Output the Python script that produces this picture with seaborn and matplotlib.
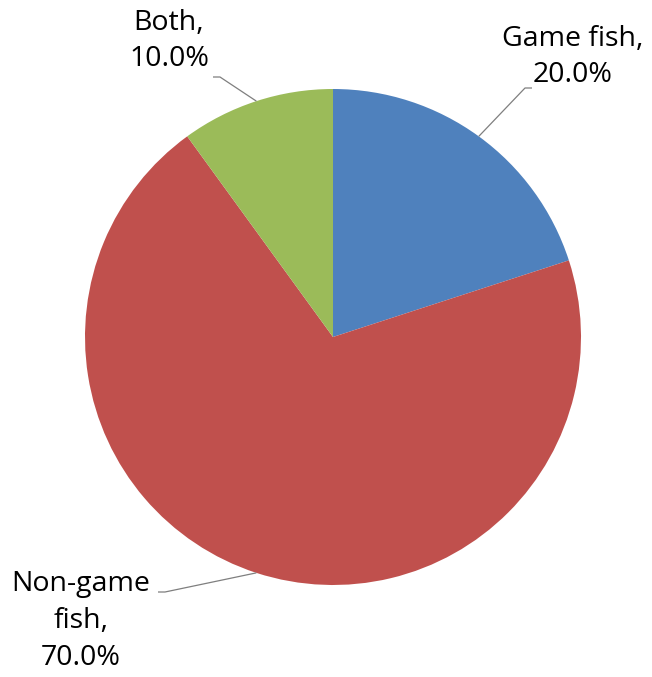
import numpy as np
import matplotlib
matplotlib.use("Agg")
import matplotlib.pyplot as plt
import seaborn as sns

categories = ["Game fish", "Non-game fish", "Both"]
shares = [20.0, 70.0, 10.0]
label_texts = ["Game fish,\n20.0%", "Non-game\nfish,\n70.0%", "Both,\n10.0%"]
colors = ["#4F81BD", "#C0504D", "#9BBB59"]

sns.set_theme(style="white")
plt.rcParams["font.family"] = ["Open Sans", "DejaVu Sans"]

W, H = 652, 677
fig = plt.figure(figsize=(W / 100, H / 100), dpi=100)
ax = fig.add_axes([0, 0, 1, 1])

cx, cy, R = 333, H - 337, 248
wedges, _ = ax.pie(shares, colors=colors, startangle=90, counterclock=False,
                   center=(cx, cy), radius=R, frame=True,
                   wedgeprops=dict(linewidth=0))
ax.set_xlim(0, W)
ax.set_ylim(0, H)
ax.set_aspect("equal")
ax.axis("off")

# label layout: (text x, text y, elbow x, elbow y, end x)
layout = [
    (573, H - 57, 525, H - 88, 532),
    (81, H - 621, 165, H - 592, 158),
    (169, H - 41, 220, H - 77, 213),
]
for w, txt, (tx, ty, ex, ey, endx) in zip(wedges, label_texts, layout):
    mid = np.deg2rad((w.theta1 + w.theta2) / 2)
    ax0 = cx + R * np.cos(mid)
    ay0 = cy + R * np.sin(mid)
    ax.plot([ax0, ex, endx], [ay0, ey, ey], color="#7f7f7f", lw=0.9,
            solid_capstyle="butt")
    ax.text(tx, ty, txt, ha="center", va="center", fontsize=20.5,
            linespacing=1.42, color="black")

fig.savefig("out.png", dpi=100)
